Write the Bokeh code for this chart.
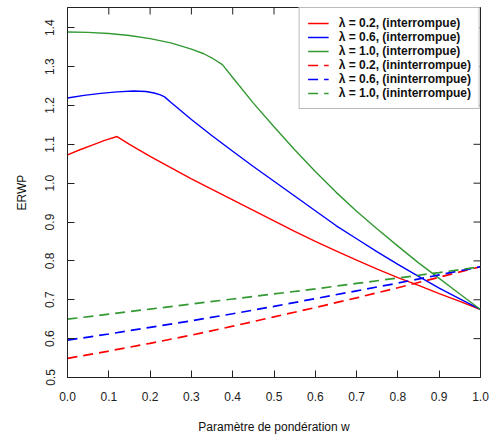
import math
from bokeh.plotting import figure
from bokeh.models import Range1d, FixedTicker, Legend, LegendItem
from bokeh.embed import file_html
from bokeh.resources import INLINE

# ---- data ----
w_red = [0.0, 0.03, 0.06, 0.09, 0.12, 0.15, 0.20, 0.25, 0.30, 0.35, 0.40, 0.45, 0.50,
         0.55, 0.60, 0.65, 0.70, 0.75, 0.80, 0.85, 0.90, 0.95, 1.0]
erwp_red = [1.073, 1.086, 1.098, 1.110, 1.120, 1.100, 1.069, 1.040, 1.011, 0.984, 0.957,
            0.930, 0.903, 0.876, 0.850, 0.826, 0.802, 0.779, 0.757, 0.737, 0.716, 0.696, 0.675]

w_blue = [0.0, 0.04, 0.08, 0.12, 0.16, 0.19, 0.21, 0.225, 0.235, 0.25, 0.30, 0.35, 0.40,
          0.45, 0.50, 0.55, 0.60, 0.65, 0.70, 0.75, 0.80, 0.85, 0.90, 0.95, 1.0]
erwp_blue = [1.219, 1.226, 1.231, 1.235, 1.237, 1.236, 1.232, 1.227, 1.222, 1.208, 1.164,
             1.122, 1.082, 1.043, 1.005, 0.967, 0.929, 0.891, 0.857, 0.823, 0.791, 0.760,
             0.730, 0.702, 0.675]

w_green = [0.0, 0.05, 0.10, 0.15, 0.20, 0.25, 0.30, 0.33, 0.35, 0.375, 0.40, 0.45, 0.50,
           0.55, 0.60, 0.65, 0.70, 0.75, 0.80, 0.85, 0.90, 0.95, 1.0]
erwp_green = [1.389, 1.388, 1.385, 1.380, 1.372, 1.361, 1.345, 1.333, 1.322, 1.305, 1.272,
              1.206, 1.145, 1.086, 1.030, 0.977, 0.928, 0.882, 0.838, 0.795, 0.755, 0.715, 0.675]

w_dash = [0.0, 0.1, 0.2, 0.3, 0.4, 0.5, 0.6, 0.7, 0.8, 0.9, 1.0]
erwp_red_dash = [0.549, 0.568, 0.588, 0.609, 0.632, 0.656, 0.680, 0.705, 0.731, 0.758, 0.785]
erwp_blue_dash = [0.596, 0.612, 0.629, 0.646, 0.664, 0.683, 0.703, 0.723, 0.743, 0.764, 0.785]
erwp_green_dash = [0.650, 0.663, 0.676, 0.689, 0.702, 0.715, 0.728, 0.742, 0.756, 0.770, 0.785]

labels = ["λ = 0.2, (interrompue)", "λ = 0.6, (interrompue)", "λ = 1.0, (interrompue)",
          "λ = 0.2, (ininterrompue)", "λ = 0.6, (ininterrompue)", "λ = 1.0, (ininterrompue)"]

x_ticks = [0.0, 0.1, 0.2, 0.3, 0.4, 0.5, 0.6, 0.7, 0.8, 0.9, 1.0]
y_ticks = [0.5, 0.6, 0.7, 0.8, 0.9, 1.0, 1.1, 1.2, 1.3, 1.4]
X_MIN, X_MAX = 0.0, 1.0
Y_MIN, Y_MAX = 0.5, 1.452

RED, BLUE, GREEN = "#FF0000", "#0000FF", "#339933"
FONT = "Liberation Sans"
AX = "#222222"

p = figure(output_backend="svg", toolbar_location=None,
           frame_width=413, frame_height=370,
           min_border_left=67, min_border_right=9, min_border_top=7, min_border_bottom=59,
           x_range=Range1d(X_MIN, X_MAX), y_range=Range1d(Y_MIN, Y_MAX))
p.grid.visible = False
p.outline_line_color = AX
p.outline_line_width = 1

r1 = p.line(w_red, erwp_red, line_color=RED, line_width=1.4)
r2 = p.line(w_blue, erwp_blue, line_color=BLUE, line_width=1.4)
r3 = p.line(w_green, erwp_green, line_color=GREEN, line_width=1.4)
r4 = p.line(w_dash, erwp_red_dash, line_color=RED, line_width=1.7, line_dash="10 6")
r5 = p.line(w_dash, erwp_blue_dash, line_color=BLUE, line_width=1.7, line_dash="10 6")
r6 = p.line(w_dash, erwp_green_dash, line_color=GREEN, line_width=1.7, line_dash="10 6")

# inward ticks on the top and right edges of the box
p.ray(x=x_ticks, y=[Y_MAX] * len(x_ticks), length=7, length_units="screen",
      angle=-math.pi / 2, line_color=AX, line_width=1)
p.ray(x=[X_MAX] * len(y_ticks), y=y_ticks, length=7, length_units="screen",
      angle=math.pi, line_color=AX, line_width=1)

legend = Legend(items=[LegendItem(label=l, renderers=[r]) for l, r in
                       zip(labels, [r1, r2, r3, r4, r5, r6])],
                location="top_right", margin=0, padding=8, spacing=0,
                glyph_width=21, glyph_height=14, label_height=14, label_standoff=10,
                label_text_font=FONT, label_text_font_size="12px",
                label_text_font_style="bold", label_text_color="#111111",
                border_line_color="#777777", border_line_width=1,
                background_fill_alpha=1.0)
p.add_layout(legend, "center")

for ax in (p.xaxis[0], p.yaxis[0]):
    ax.major_tick_in = 7
    ax.major_tick_out = 0
    ax.minor_tick_in = 0
    ax.minor_tick_out = 0
    ax.axis_line_color = AX
    ax.major_tick_line_color = AX
    ax.major_label_text_font = FONT
    ax.major_label_text_font_size = "12px"
    ax.major_label_text_color = AX
    ax.axis_label_text_font = FONT
    ax.axis_label_text_font_size = "12px"
    ax.axis_label_text_font_style = "normal"
    ax.axis_label_text_color = "#111111"

p.xaxis.ticker = FixedTicker(ticks=x_ticks)
p.yaxis.ticker = FixedTicker(ticks=y_ticks)
p.xaxis.major_label_overrides = {t: f"{t:.1f}" for t in x_ticks}
p.yaxis.major_label_overrides = {t: f"{t:.1f}" for t in y_ticks}
p.xaxis.major_label_standoff = 14
p.yaxis.major_label_standoff = 13
p.yaxis.major_label_orientation = "vertical"
p.xaxis.axis_label = "Paramètre de pondération w"
p.yaxis.axis_label = "ERWP"
p.xaxis.axis_label_standoff = 16
p.yaxis.axis_label_standoff = 14

open("out.html", "w").write(file_html(p, INLINE))
